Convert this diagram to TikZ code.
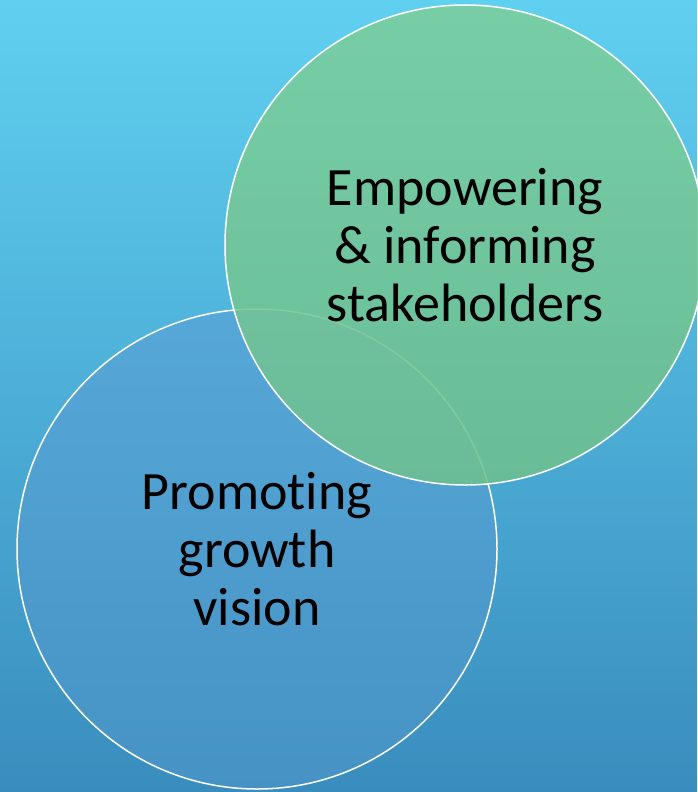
\documentclass[tikz,border=0pt]{standalone}
\usepackage{fontspec}
\setmainfont{Carlito}[Ligatures=CommonOff]
\usetikzlibrary{shapes}
\definecolor{bgtop}{HTML}{60D0F0}
\definecolor{bgbot}{HTML}{398DBE}
\definecolor{bluetop}{HTML}{56A8D8}
\definecolor{bluebot}{HTML}{4692C4}
\definecolor{greentop}{HTML}{7BCE9D}
\definecolor{greenbot}{HTML}{6DC08F}

\begin{document}
\begin{tikzpicture}[x=1pt, y=1pt,
    bubble/.style={circle, draw=white, line width=1.5pt, minimum size=480pt,
        inner sep=0pt, align=center, font=\fontsize{54}{58}\selectfont}]

        % slide background
        \shade[top color=bgtop, bottom color=bgbot] (0,0) rectangle (697,-792);
        \useasboundingbox (0,0) rectangle (697,-792);

        \node[bubble, top color=bluetop, bottom color=bluebot] (growth) at (257,-549) {Promoting\\growth\\vision};
        \node[bubble, top color=greentop, bottom color=greenbot, fill opacity=0.88, text opacity=1] (stake) at (465,-245) {Empowering\\\& informing\\stakeholders};

    \end{tikzpicture}
\end{document}
